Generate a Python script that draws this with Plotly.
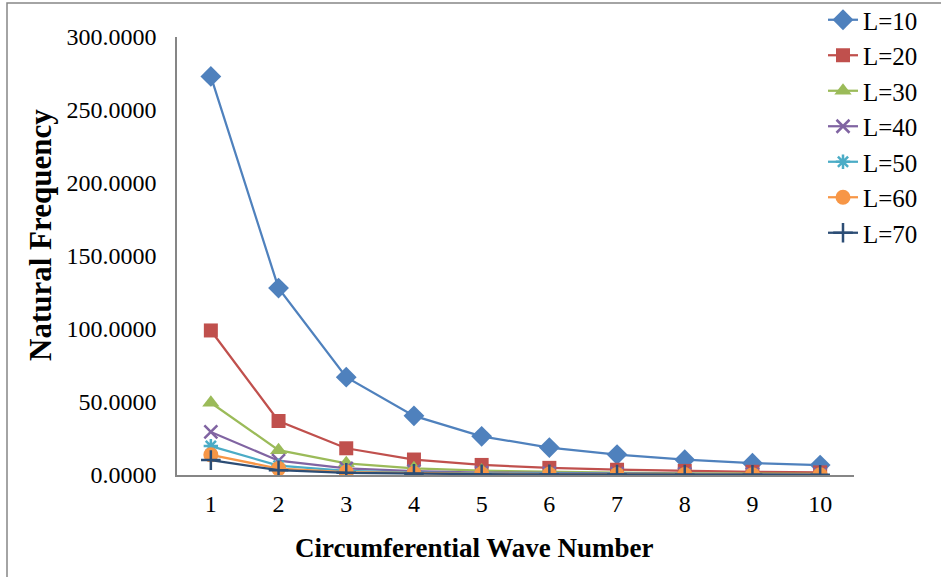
import plotly.graph_objects as go

# Circumferential wave numbers
wave_numbers = [1, 2, 3, 4, 5, 6, 7, 8, 9, 10]

# Natural frequency for each length L
freq_L10 = [273.0, 128.0, 67.0, 40.5, 26.5, 18.8, 14.0, 10.5, 8.1, 6.8]
freq_L20 = [99.0, 37.0, 18.3, 10.6, 6.9, 4.9, 3.6, 2.8, 2.2, 1.8]
freq_L30 = [49.5, 17.0, 8.0, 4.6, 3.0, 2.1, 1.6, 1.2, 1.0, 0.8]
freq_L40 = [29.5, 9.8, 4.5, 2.6, 1.7, 1.2, 0.9, 0.7, 0.55, 0.45]
freq_L50 = [19.8, 6.4, 2.9, 1.7, 1.1, 0.8, 0.6, 0.45, 0.35, 0.3]
freq_L60 = [13.8, 4.4, 2.0, 1.2, 0.8, 0.55, 0.4, 0.3, 0.25, 0.2]
freq_L70 = [10.2, 3.3, 1.5, 0.9, 0.55, 0.4, 0.3, 0.23, 0.18, 0.15]

series_names = ["L=10", "L=20", "L=30", "L=40", "L=50", "L=60", "L=70"]

FONT = "Liberation Serif, Times New Roman, serif"

styles = [
    dict(color="#4F81BD", symbol="diamond", size=16),
    dict(color="#C0504D", symbol="square", size=14),
    dict(color="#9BBB59", symbol="triangle-up", size=15),
    dict(color="#8064A2", symbol="x-thin-open", size=13),
    dict(color="#4BACC6", symbol="asterisk-open", size=12),
    dict(color="#F79646", symbol="circle", size=15),
    dict(color="#2C4D75", symbol="cross-thin-open", size=14),
]

fig = go.Figure()
all_series = [freq_L10, freq_L20, freq_L30, freq_L40, freq_L50, freq_L60, freq_L70]
for name, values, st in zip(series_names, all_series, styles):
    fig.add_trace(go.Scatter(
        x=wave_numbers, y=values, name=name, mode="lines+markers",
        line=dict(color=st["color"], width=2.25),
        marker=dict(symbol=st["symbol"], size=st["size"], color=st["color"],
                    line=dict(color=st["color"], width=2.5 if "open" in st["symbol"] else 0)),
    ))

W, H = 941, 577
L_M, R_M, T_M, B_M = 177, 87, 37, 102
pw, ph = W - L_M - R_M, H - T_M - B_M

def px_x(x):
    return (x - L_M) / pw

def px_y(y):
    return (H - B_M - y) / ph

fig.update_layout(
    width=W, height=H,
    margin=dict(l=L_M, r=R_M, t=T_M, b=B_M, autoexpand=False),
    paper_bgcolor="white", plot_bgcolor="white",
    font=dict(family=FONT, size=24, color="black"),
    showlegend=True,
    legend=dict(x=px_x(823), y=px_y(-3), xanchor="left", yanchor="top",
                font=dict(family=FONT, size=25, color="black"),
                tracegroupgap=0, bgcolor="rgba(0,0,0,0)"),
    xaxis=dict(range=[0.5, 10.5], tickvals=wave_numbers, showgrid=False, zeroline=False,
               showline=True, linecolor="#868686", linewidth=1.5, ticks="",
               ticklabelstandoff=6, tickfont=dict(family=FONT, size=24)),
    yaxis=dict(range=[0, 300], dtick=50, tickformat=".4f", showgrid=False, zeroline=False,
               showline=True, linecolor="#868686", linewidth=1.5, ticks="",
               ticklabelstandoff=14, tickfont=dict(family=FONT, size=24)),
    annotations=[
        dict(text="<b>Natural Frequency</b>", x=px_x(40), y=px_y(235), xref="paper", yref="paper",
             xanchor="center", yanchor="middle",
             textangle=-90, showarrow=False, font=dict(family=FONT, size=31)),
        dict(text="<b>Circumferential Wave Number</b>", x=px_x(474), y=px_y(548), xref="paper", yref="paper",
             xanchor="center", yanchor="middle",
             showarrow=False, font=dict(family=FONT, size=27)),
    ],
    shapes=[
        dict(type="rect", xref="paper", yref="paper",
             x0=px_x(7), x1=px_x(960), y0=px_y(600), y1=px_y(3),
             line=dict(color="#868686", width=1.5), fillcolor="rgba(0,0,0,0)", layer="below"),
    ],
)

fig.write_html("out.html")
